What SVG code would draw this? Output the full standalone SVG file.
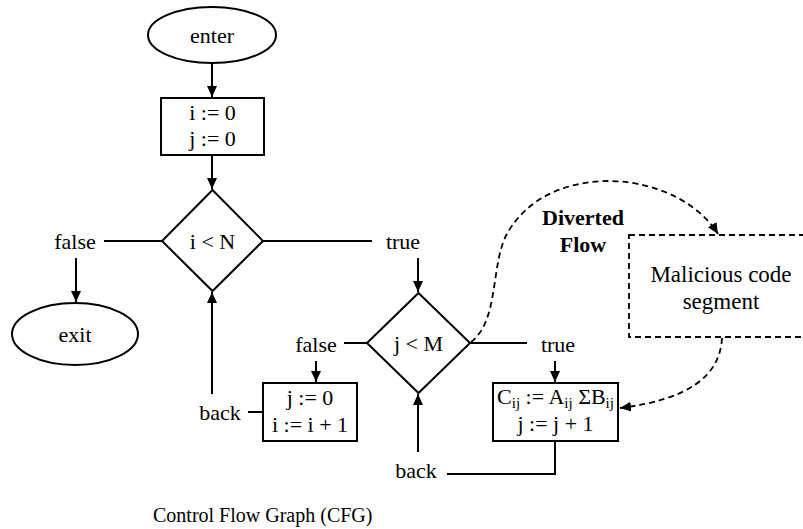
<svg xmlns="http://www.w3.org/2000/svg" width="803" height="529" viewBox="0 0 803 529">
<style>
text{font-family:"Liberation Serif","Times New Roman",serif;font-size:22px;fill:#000;text-anchor:middle}
.n{fill:#fff;stroke:#000;stroke-width:2}
.c{fill:none;stroke:#000;stroke-width:2}
.d{fill:none;stroke:#000;stroke-width:1.8;stroke-dasharray:6,4}
.b{font-weight:bold}
.m{font-size:23px}
.cap{font-size:20px;text-anchor:start}
.s{font-size:15px}
</style>
<defs>
<marker id="a" markerUnits="userSpaceOnUse" markerWidth="12" markerHeight="12" viewBox="0 0 12 12" refX="11" refY="6" orient="auto"><path d="M0,1 L11,6 L0,11 Z" fill="#000"/></marker>
</defs>
<g id="connectors">
<path class="c" d="M212,63 V97" marker-end="url(#a)"/>
<path class="c" d="M212,155 V189" marker-end="url(#a)"/>
<path class="c" d="M162,241 H104"/>
<path class="c" d="M76,258 V302" marker-end="url(#a)"/>
<path class="c" d="M263,241 H372"/>
<path class="c" d="M418,258 V292" marker-end="url(#a)"/>
<path class="c" d="M367,343 H344"/>
<path class="c" d="M316,361 V382" marker-end="url(#a)"/>
<path class="c" d="M263,412 H248"/>
<path class="c" d="M212,394 V292" marker-end="url(#a)"/>
<path class="c" d="M470,343 H527"/>
<path class="c" d="M555,361 V382" marker-end="url(#a)"/>
<path class="c" d="M555,441 V474 H447"/>
<path class="c" d="M418,452 V394" marker-end="url(#a)"/>
<path class="d" d="M471,342 C500,320 490,262 508,232 C530,195 570,181 610,181 C660,182 700,205 718,234" marker-end="url(#a)"/>
<path class="d" d="M722,338 C720,378 685,400 620,408" marker-end="url(#a)"/>
</g>
<g id="enter"><ellipse class="n" cx="212" cy="35" rx="64" ry="28"/><text x="212" y="43">enter</text></g>
<g id="init"><rect class="n" x="161" y="98" width="103" height="57"/><text x="212.5" y="120">i := 0</text><text x="212.5" y="146">j := 0</text></g>
<g id="condI"><path class="n" d="M212.5,190 L263,241 L212.5,291 L162,241 Z"/><text x="212.5" y="249">i &lt; N</text></g>
<g id="exit"><ellipse class="n" cx="75" cy="334" rx="63" ry="31"/><text x="75" y="342">exit</text></g>
<g id="condJ"><path class="n" d="M418.5,293 L470,343 L418.5,393 L367,343 Z"/><text x="418.5" y="351">j &lt; M</text></g>
<g id="resetJ"><rect class="n" x="263" y="383" width="94" height="58"/><text x="310" y="405">j := 0</text><text x="310" y="432">i := i + 1</text></g>
<g id="body"><rect class="n" x="493" y="383" width="125" height="58"/><text x="555.5" y="404">C<tspan class="s" dy="4">ij</tspan><tspan dy="-4"> := A</tspan><tspan class="s" dy="4">ij</tspan><tspan dy="-4"> ΣB</tspan><tspan class="s" dy="4">ij</tspan></text><text x="555.5" y="431">j := j + 1</text></g>
<g id="malicious"><rect class="d" x="629" y="235" width="190" height="102" fill="#fff"/><text class="m" x="721" y="282">Malicious code</text><text class="m" x="721" y="309">segment</text></g>
<g id="labels">
<text x="75" y="249">false</text>
<text x="403" y="249">true</text>
<text x="316" y="352">false</text>
<text x="558" y="352">true</text>
<text x="220" y="420">back</text>
<text x="416" y="478">back</text>
<text class="b" x="583" y="225">Diverted</text>
<text class="b" x="583" y="252">Flow</text>
<text class="cap" x="153" y="522">Control Flow Graph (CFG)</text>
</g>
</svg>
